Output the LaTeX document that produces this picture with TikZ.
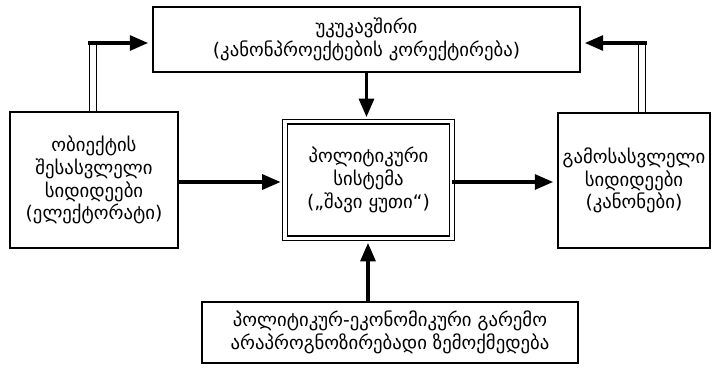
\documentclass[tikz,border=0pt]{standalone}
\usepackage{fontspec}
\setmainfont{DejaVu Sans}
\usetikzlibrary{positioning,arrows.meta}

\begin{document}
\begin{tikzpicture}[
    box/.style={rectangle, draw=black, line width=1.5pt, align=center, inner sep=2pt, font=\fontsize{16}{19.5}\selectfont},
    sysbox/.style={box, double, double distance=3pt, line width=1.1pt},
    arrow/.style={-{Triangle[length=5.5mm,width=4.5mm]}, line width=2.6pt, shorten >=1.2mm},
    pipe/.style={double, double distance=5pt, line width=0.9pt}
]
    \useasboundingbox (0,0) rectangle (21.39,-11.13);

    \node[sysbox, minimum width=5.0cm, minimum height=3.5cm] (sys) at (11.055,-5.40) {პოლიტიკური\\სისტემა\\(„შავი ყუთი“)};
    \node[box, minimum width=12.81cm, minimum height=1.95cm] (fb) at (10.995,-1.185) {უკუკავშირი\\(კანონპროექტების კორექტირება)};
    \node[box, minimum width=5.04cm, minimum height=4.08cm] (inp) at (2.82,-5.40) {ობიექტის\\შესასვლელი\\სიდიდეები\\(ელექტორატი)};
    \node[box, minimum width=4.56cm, minimum height=4.05cm] (out) at (19.02,-5.415) {გამოსასვლელი\\სიდიდეები\\(კანონები)};
    \node[box, minimum width=11.28cm, minimum height=1.83cm] (env) at (11.70,-9.975) {პოლიტიკურ-ეკონომიკური გარემო\\არაპროგნოზირებადი ზემოქმედება};

    % feedback loops
    \coordinate (fbl) at (2.79,-1.29);
    \coordinate (fbr) at (19.26,-1.29);
    \draw[pipe] (inp.north -| fbl) -- (fbl);
    \draw[pipe] (out.north -| fbr) -- (fbr);
    \draw[arrow] ([xshift=-0.15cm]fbl) -- (fbl -| fb.west);
    \draw[arrow] ([xshift=0.15cm]fbr) -- (fbr -| fb.east);

    \draw[arrow] (fb.south) -- (fb.south |- sys.north);
    \draw[arrow] (inp.east |- 0,-5.46) -- (sys.west |- 0,-5.46);
    \draw[arrow] (sys.east |- 0,-5.46) -- (out.west |- 0,-5.46);
    \draw[arrow] (env.north -| 11.04,0) -- (sys.south -| 11.04,0);
\end{tikzpicture}
\end{document}
